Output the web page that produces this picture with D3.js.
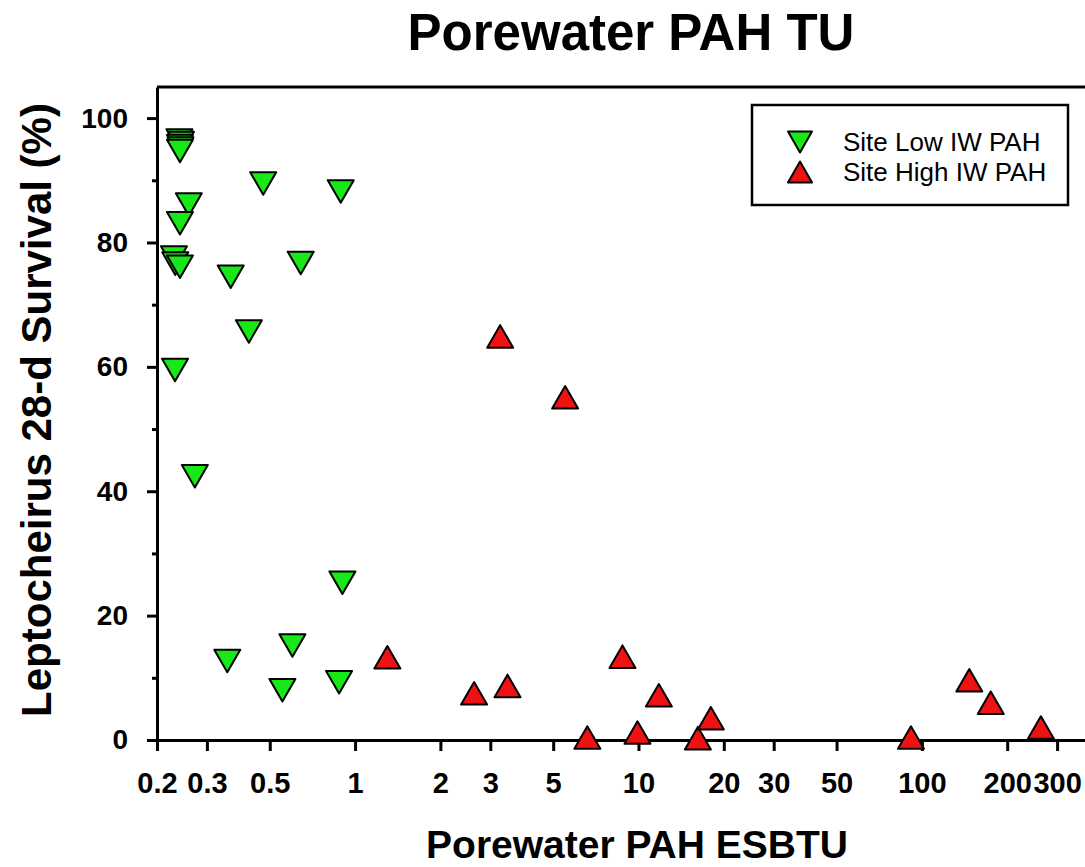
<!DOCTYPE html>
<html>
<head>
<meta charset="utf-8">
<script src="https://cdn.jsdelivr.net/npm/d3@7"></script>
<style>
  html, body { margin: 0; padding: 0; background: #fff; }
  svg { display: block; }
  text { font-family: "Liberation Sans", Arial, sans-serif; fill: #000; }
</style>
</head>
<body>
<svg id="chart" width="1085" height="867"></svg>
<script>
// Porewater PAH ESBTU (x) vs Leptocheirus 28-d survival % (y)
const lowX = [0.240, 0.243, 0.241, 0.242, 0.241, 0.474, 0.89, 0.259, 0.241, 0.2296, 0.232, 0.241,
              0.364, 0.643, 0.422, 0.2315, 0.272, 0.902, 0.601, 0.354, 0.554, 0.878];
const lowY = [96.4, 96.0, 95.5, 95.1, 94.7, 89.5, 88.2, 86.1, 83.1, 77.6, 76.6, 76.1,
              74.5, 76.7, 65.7, 59.5, 42.4, 25.3, 15.2, 12.7, 8.0, 9.3];

const highX = [1.30, 2.63, 3.45, 3.25, 5.51, 6.6, 8.78, 9.92, 11.8, 16.2, 18.0, 91.5, 147, 175, 263];
const highY = [13.3, 7.5, 8.7, 64.9, 55.1, 0.4, 13.4, 1.2, 7.2, 0.3, 3.5, 0.4, 9.6, 6.0, 2.0];

const xTicks = [0.2, 0.3, 0.5, 1, 2, 3, 5, 10, 20, 30, 50, 100, 200, 300];
const yMajorTicks = [0, 20, 40, 60, 80, 100];
const yMinorTicks = [10, 30, 50, 70, 90];

const xDomain = [0.2, 450];
const yDomain = [0, 105];

const seriesNames = ["Site Low IW PAH", "Site High IW PAH"];
const seriesColors = ["#18e818", "#ee1212"];

const svg = d3.select("#chart");
const plotL = 157, plotR = 1107, plotT = 87, plotB = 740;

const x = d3.scaleLog().domain(xDomain).range([plotL, plotR]);
const y = d3.scaleLinear().domain(yDomain).range([plotB, plotT]);

// triangle path centred on its bounding box
function tri(side, down) {
  const h = side * Math.sqrt(3) / 2;
  const s = down ? 1 : -1;
  return `M${-side / 2},${-s * h / 2}L${side / 2},${-s * h / 2}L0,${s * h / 2}Z`;
}
const SIDE = 26;

// Title
svg.append("text")
  .attr("x", 631).attr("y", 50)
  .attr("text-anchor", "middle")
  .style("font-size", "51px").style("font-weight", "bold")
  .text("Porewater PAH TU");

// Frame (top and right edges)
svg.append("path")
  .attr("d", `M${plotL},${plotT}H${plotR}V${plotB}`)
  .attr("fill", "none").attr("stroke", "#000").attr("stroke-width", 3);

// X axis
const xAxis = d3.axisBottom(x)
  .tickValues(xTicks)
  .tickFormat(d => String(d))
  .tickSize(11).tickPadding(21).tickSizeOuter(0);
const gx = svg.append("g").attr("transform", `translate(0,${plotB})`).call(xAxis);
gx.select(".domain").attr("stroke-width", 3);
gx.selectAll(".tick line").attr("stroke-width", 3);
gx.selectAll(".tick text")
  .style("font-size", "29px").style("font-weight", "bold")
  .attr("font-family", null).attr("fill", "#000");

// Y axis (major + minor ticks)
const yAxis = d3.axisLeft(y)
  .tickValues(yMajorTicks)
  .tickSize(10).tickPadding(19).tickSizeOuter(0);
const gy = svg.append("g").attr("transform", `translate(${plotL},0)`).call(yAxis);
gy.select(".domain").attr("stroke-width", 3);
gy.selectAll(".tick line").attr("stroke-width", 3);
gy.selectAll(".tick text")
  .style("font-size", "28px").style("font-weight", "bold")
  .attr("font-family", null).attr("fill", "#000");

const gyMinor = svg.append("g").attr("transform", `translate(${plotL},0)`)
  .call(d3.axisLeft(y).tickValues(yMinorTicks).tickSize(5).tickFormat(""));
gyMinor.select(".domain").remove();
gyMinor.selectAll(".tick line").attr("stroke-width", 3);

// Axis titles
svg.append("text")
  .attr("x", 637).attr("y", 858)
  .attr("text-anchor", "middle")
  .style("font-size", "39px").style("font-weight", "bold")
  .text("Porewater PAH ESBTU");

svg.append("text")
  .attr("transform", "translate(51,410) rotate(-90)")
  .attr("text-anchor", "middle")
  .style("font-size", "42px").style("font-weight", "bold")
  .text("Leptocheirus 28-d Survival (%)");

// Points
const lowPts = lowX.map((v, i) => [v, lowY[i]]);
const highPts = highX.map((v, i) => [v, highY[i]]);

svg.append("g").selectAll("path")
  .data(lowPts).join("path")
  .attr("transform", d => `translate(${x(d[0])},${y(d[1])})`)
  .attr("d", tri(SIDE, true))
  .attr("fill", seriesColors[0]).attr("stroke", "#000").attr("stroke-width", 2)
  .attr("stroke-linejoin", "round");

svg.append("g").selectAll("path")
  .data(highPts).join("path")
  .attr("transform", d => `translate(${x(d[0])},${y(d[1])})`)
  .attr("d", tri(SIDE, false))
  .attr("fill", seriesColors[1]).attr("stroke", "#000").attr("stroke-width", 2)
  .attr("stroke-linejoin", "round");

// Legend
const lg = svg.append("g");
lg.append("rect")
  .attr("x", 752).attr("y", 105).attr("width", 316).attr("height", 100)
  .attr("fill", "#fff").attr("stroke", "#000").attr("stroke-width", 2.5);
seriesNames.forEach((name, i) => {
  const cy = 142 + i * 30;
  lg.append("path")
    .attr("transform", `translate(800,${cy})`)
    .attr("d", tri(24, i === 0))
    .attr("fill", seriesColors[i]).attr("stroke", "#000").attr("stroke-width", 2)
    .attr("stroke-linejoin", "round");
  lg.append("text")
    .attr("x", 843).attr("y", cy).attr("dy", "0.35em")
    .style("font-size", "26px")
    .text(name);
});
</script>
</body>
</html>
